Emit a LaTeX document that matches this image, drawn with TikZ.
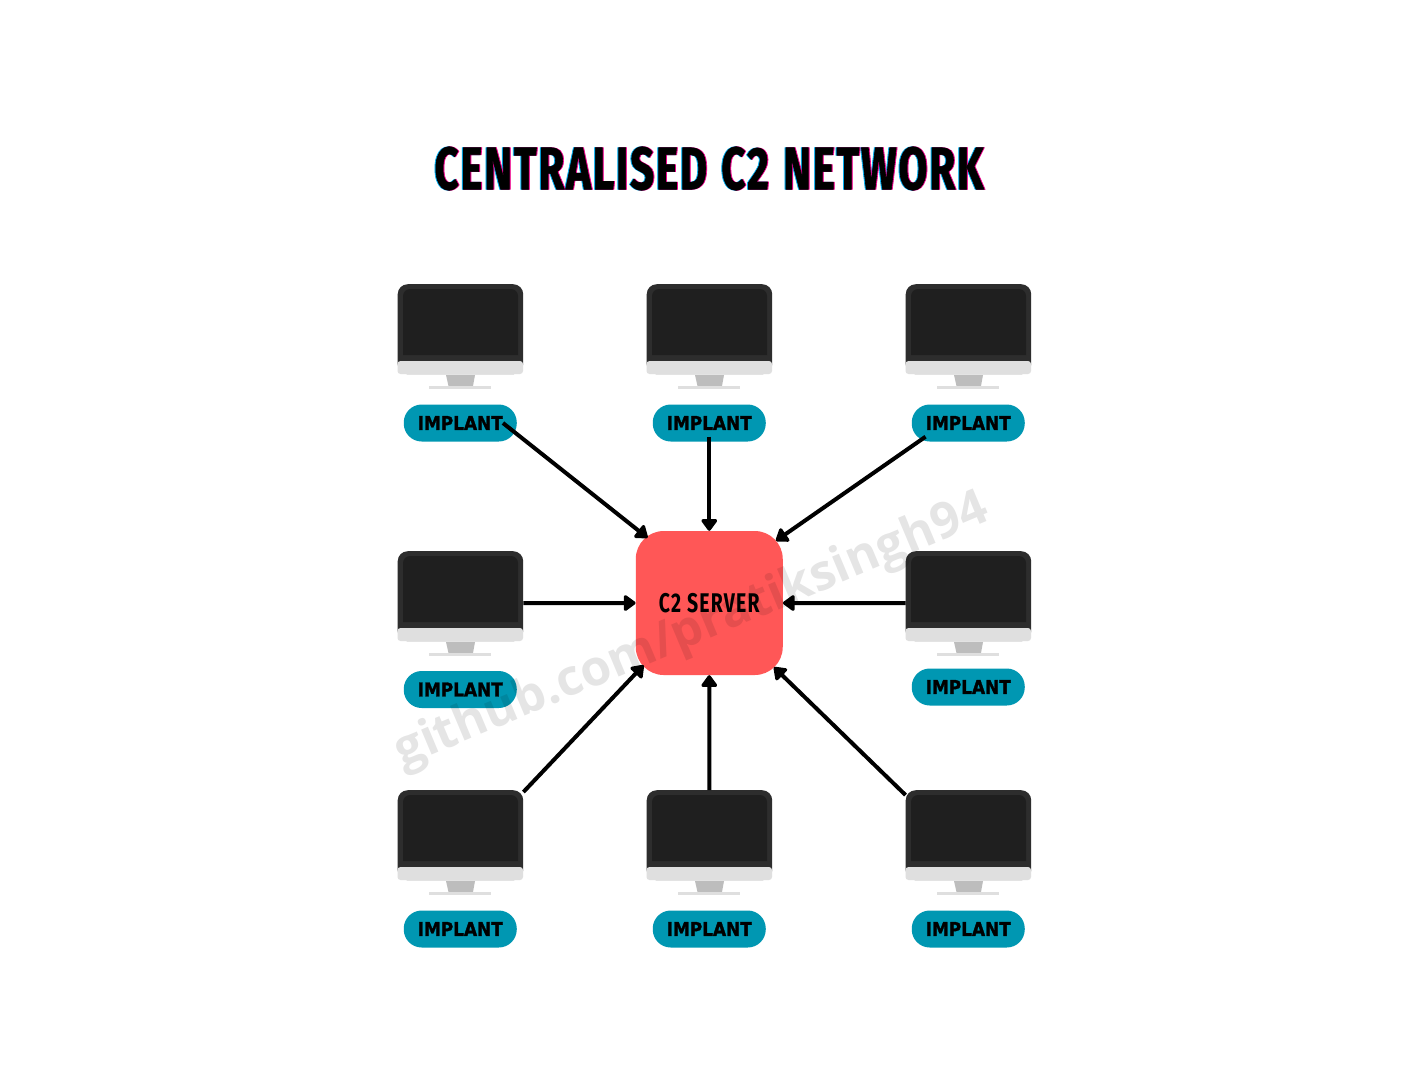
\documentclass[tikz,border=0pt]{standalone}
\usepackage{fontspec}
\usetikzlibrary{arrows.meta}
\newfontfamily\titlefont[FakeStretch=0.70, LetterSpace=3, WordSpace=1.2, FakeBold=1]{Fira Sans}
\newfontfamily\serverfont[FakeStretch=0.72, LetterSpace=4.5]{Fira Sans}
\newfontfamily\pillfont[FakeStretch=0.89, FakeBold=1.5]{DejaVu Sans}
\newfontfamily\markfont{Open Sans}
\definecolor{casing}{HTML}{2D2D2D}
\definecolor{panel}{HTML}{1F1F1F}
\definecolor{chin}{HTML}{DFDFDF}
\definecolor{neck}{HTML}{BDBDBD}
\definecolor{pillblue}{HTML}{0097B2}
\definecolor{serverred}{HTML}{FF5757}
\tikzset{
	casebox/.style={draw=none, fill=casing, rounded corners=10pt, minimum width=125.5pt, minimum height=90pt, inner sep=0pt, anchor=north west},
	pill/.style={fill=pillblue, rounded corners=18pt, minimum width=113pt, minimum height=37pt, inner sep=0pt, font=\pillfont\bfseries\fontsize{19}{22}\selectfont},
	serverbox/.style={fill=serverred, rounded corners=28pt, minimum width=147pt, minimum height=144pt, inner sep=0pt, font=\serverfont\bfseries\fontsize{27}{30}\selectfont},
	headline/.style={font=\titlefont\bfseries\fontsize{60}{64}\selectfont},
	link/.style={line width=4pt, black, line join=round, -{Triangle[length=13pt, width=18pt, round]}},
	pics/monitor/.style={code={
		\node [casebox] (-body) at (0,0) {};
		\fill [panel] (5.5,71) [rounded corners=7pt] -- (5.5,5) -- (120.5,5) [sharp corners] -- (120.5,71) -- cycle;
		\fill [chin, rounded corners=3pt] (0,77) -- (125.5,77) -- (125.5,90) -- (0,90) -- cycle;
		\fill [neck] (48.5,91) -- (77.5,91) -- (75.5,102) -- (51,102) -- cycle;
		\fill [chin] (31.5,102) rectangle (93.5,105);
	}}
}
\begin{document}
\begin{tikzpicture}[x=1pt, y=-1pt]
	\useasboundingbox (0,0) rectangle (1418,1080);
	\fill [white] (0,0) rectangle (1418,1080);
	% Title
	\node [headline, cyan] (titleleft) at (708,168.5) {CENTRALISED C2 NETWORK};
	\node [headline, magenta] (titleright) at (710,168.5) {CENTRALISED C2 NETWORK};
	\node [headline, black] (title) at (709,168.5) {CENTRALISED C2 NETWORK};
	% Monitors
	\foreach \name/\x/\y in {m1/397.5/284, m2/646.5/284, m3/905.5/284, m4/397.5/551, m5/905.5/551, m6/397.5/790, m7/646.5/790, m8/905.5/790} {
		\pic (\name) at (\x,\y) {monitor};
	}
	% Labels
	\foreach \name/\x/\y in {p1/460.25/423, p2/709.25/423, p3/968.25/423, p4/460.25/689.5, p5/968.25/687, p6/460.25/929, p7/709.25/929, p8/968.25/929} {
		\node [pill] (\name) at (\x,\y) {IMPLANT};
	}
	% Server
	\node [serverbox] (server) at (709.25,603) {C2 SERVER};
	% Links
	\draw [link] ([xshift=-14pt]p1.east) -- ([shift={(12,7)}]server.north west);
	\draw [link] ([yshift=5pt]p2.south) -- (server.north);
	\draw [link] ([shift={(14,-5)}]p3.south west) -- ([shift={(-7,10)}]server.north east);
	\draw [link] ([yshift=-7pt]m4-body.east) -- (server.west);
	\draw [link] ([yshift=-7pt]m5-body.west) -- (server.east);
	\draw [link] ([yshift=-2pt]m6-body.north east) -- ([shift={(8,-10)}]server.south west);
	\draw [link] (m7-body.north) -- (server.south);
	\draw [link] ([yshift=-5pt]m8-body.north west) -- ([shift={(-9,-8)}]server.south east);
	% Watermark
	\node [black, opacity=0.1, rotate=22.8, font=\markfont\bfseries\fontsize{49.5}{54}\selectfont] (mark) at (692,632) {github.com/pratiksingh94};
\end{tikzpicture}
\end{document}
